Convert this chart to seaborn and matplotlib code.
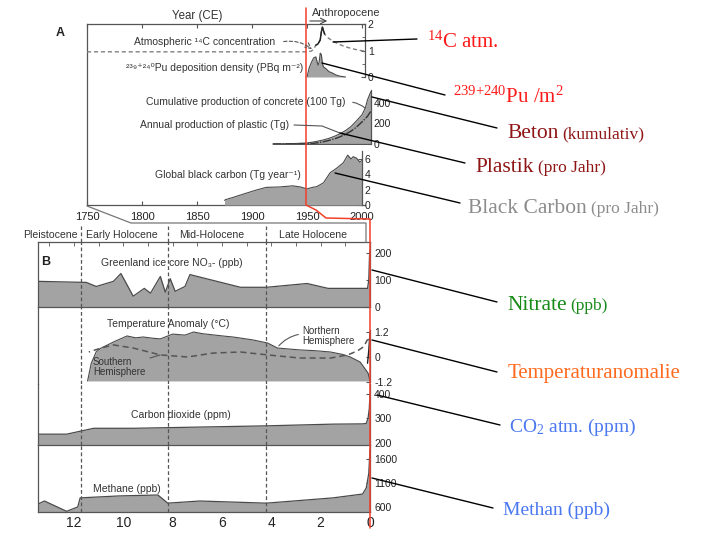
import numpy as np
import pandas as pd
import matplotlib
matplotlib.use("Agg")
import matplotlib.pyplot as plt
import seaborn as sns

# ---------------- data : panel A (Year CE) ----------------
c14_year = [1750, 1950, 1954, 1956, 1958, 1960, 1962, 1963, 1964, 1965, 1966, 1968, 1970, 1975, 1980, 1985, 1990, 1995, 2000, 2003]
c14_val = [0.95, 0.95, 0.98, 1.05, 1.2, 1.25, 1.4, 1.7, 1.88, 1.75, 1.62, 1.52, 1.45, 1.32, 1.22, 1.14, 1.08, 1.03, 0.99, 0.98]
pu_year = [1950, 1952, 1954, 1956, 1958, 1959, 1960, 1961, 1962, 1963, 1964, 1965, 1967, 1970, 1973, 1976, 1980, 1985]
pu_val = [0, 0.35, 0.55, 0.72, 0.76, 0.6, 0.45, 0.55, 0.9, 0.85, 0.5, 0.38, 0.32, 0.2, 0.15, 0.08, 0.03, 0]
concrete_year = [1919, 1930, 1940, 1950, 1955, 1960, 1965, 1970, 1975, 1980, 1985, 1990, 1995, 2000, 2003, 2005, 2008]
concrete_val = [0, 2, 5, 10, 18, 28, 40, 55, 75, 100, 130, 170, 225, 285, 350, 430, 510]
plastic_year = [1919, 1950, 1955, 1960, 1965, 1970, 1975, 1980, 1985, 1990, 1995, 2000, 2005, 2008]
plastic_val = [0, 2, 5, 12, 22, 35, 50, 70, 95, 125, 165, 215, 270, 320]
bc_year = [1875, 1876, 1883, 1895, 1904, 1913, 1925, 1937, 1944, 1950, 1955, 1959, 1965, 1971, 1977, 1983, 1987, 1990, 1992, 1995, 1998, 2000]
bc_val = [0.6, 0.7, 1.0, 1.55, 1.95, 2.3, 2.35, 2.5, 2.35, 2.1, 2.3, 2.4, 2.9, 4.2, 4.8, 5.5, 6.5, 6.0, 6.3, 6.1, 5.6, 5.8]
year_ticks = [1750, 1800, 1850, 1900, 1950, 2000]

# ---------------- data : panel B (age, kyr B.P.) ----------------
nit_age = [13.46, 11.5, 11.1, 10.4, 10.1, 9.6, 9.15, 8.9, 8.5, 8.3, 8.1, 7.9, 7.5, 7.3, 5.25, 4.2, 2.55, 1.7, 0.1, 0.05, 0.02, 0.0]
nit_val = [95, 91, 76, 95, 124, 40, 69, 51, 113, 55, 105, 58, 76, 120, 73, 73, 87, 69, 69, 100, 190, 210]
tnh_age = [11.45, 11.3, 11.1, 10.9, 10.4, 9.85, 9.5, 9.2, 8.8, 8.5, 8.0, 7.5, 7.15, 6.8, 6.35, 5.9, 5.55, 4.75, 4.15, 3.75, 2.85, 2.2, 1.6, 1.1, 0.8, 0.4, 0.08, 0.0]
tnh_val = [-1.15, -0.3, 0.25, 0.43, 0.72, 1.01, 0.92, 0.96, 0.9, 0.87, 1.1, 1.05, 1.2, 1.12, 1.06, 1.0, 0.96, 0.82, 0.67, 0.43, 0.34, 0.3, 0.24, 0.12, 0.0, -0.24, -0.77, -1.15]
tsh_age = [11.4, 10.9, 10.4, 9.6, 8.5, 7.4, 6.35, 5.25, 4.15, 2.85, 1.6, 0.9, 0.5, 0.25, 0.12, 0.05]
tsh_val = [0.24, 0.43, 0.58, 0.43, 0.1, 0.0, 0.19, 0.24, 0.1, -0.05, -0.05, 0.1, 0.3, 0.5, 0.8, 0.85]
tinst_age = [0.1, 0.05, 0.0]
tinst_val = [-0.3, 0.3, 1.15]
co2_age = [13.46, 12.3, 11.75, 11.2, 9.6, 6.9, 4.2, 1.5, 0.3, 0.15, 0.08, 0.03, 0.0]
co2_val = [236, 236, 248, 260, 260, 265, 270, 277, 278, 280, 300, 340, 400]
ch4_age = [13.46, 13.2, 12.3, 11.85, 11.75, 10.2, 8.6, 8.2, 6.9, 4.2, 1.5, 0.3, 0.15, 0.05, 0.0]
ch4_val = [660, 725, 510, 600, 790, 830, 850, 680, 725, 680, 790, 870, 1000, 1300, 1800]
age_ticks = [12, 10, 8, 6, 4, 2, 0]
boundaries = [11.7, 8.2, 4.2]
epochs = ["Pleistocene", "Early Holocene", "Mid-Holocene", "Late Holocene"]
epoch_pos = [12.97, 10.05, 6.4, 2.3]

# ---------------- style ----------------
sns.set_style("white")
plt.rcParams["font.family"] = ["Liberation Sans", "DejaVu Sans"]
plt.rcParams["mathtext.fontset"] = "custom"
plt.rcParams["mathtext.rm"] = "Liberation Serif"
plt.rcParams["mathtext.it"] = "Liberation Serif:italic"
plt.rcParams["mathtext.bf"] = "Liberation Serif:bold"

W, H = 709, 544
fig = plt.figure(figsize=(W / 100, H / 100), dpi=100)
TXT = "#333333"
SP = "#555555"
FILL = "#a3a3a3"
EDGE = "#4a4a4a"


def add_ax(x0, y0, x1, y1, z=1):
    ax = fig.add_axes([x0 / W, 1 - y1 / H, (x1 - x0) / W, (y1 - y0) / H], zorder=z)
    ax.patch.set_alpha(0)
    return ax


def right_only(ax, lo, hi, ticks, labels=None, fs=7.5):
    for s in ["left", "top", "bottom"]:
        ax.spines[s].set_visible(False)
    ax.spines["right"].set_visible(True)
    ax.spines["right"].set_color(SP)
    ax.spines["right"].set_linewidth(0.9)
    ax.spines["right"].set_bounds(lo, hi)
    ax.yaxis.tick_right()
    ax.set_yticks(ticks)
    if labels is not None:
        ax.set_yticklabels(labels)
    ax.tick_params(axis="y", direction="in", length=3, width=0.8, colors=SP,
                   labelcolor="#222222", labelsize=fs, pad=2)
    ax.set_xticks([])
    ax.set_xlabel("")
    ax.set_ylabel("")


# ---------------- panel A ----------------
axA = add_ax(87, 24, 365, 205, z=0)
axA.set_xlim(1750, 2002.7)
axA.set_ylim(0, 1)
axA.spines["right"].set_visible(False)
for s in ["left", "top", "bottom"]:
    axA.spines[s].set_color(SP)
    axA.spines[s].set_linewidth(0.9)
axA.set_yticks([])
axA.set_xticks(year_ticks)
axA.tick_params(axis="x", direction="in", length=3, top=True, bottom=True,
                colors=SP, labelcolor="#222222", labelsize=8, pad=5)

ax1 = add_ax(87, 24, 365, 80)
ax1.set_xlim(1750, 2002.7)
ax1.set_ylim(-0.113, 2.0)
ax1.fill_between(pu_year, 0, pu_val, color=FILL, lw=0)
sns.lineplot(x=pu_year, y=pu_val, ax=ax1, color=EDGE, lw=0.8, estimator=None)
sns.lineplot(x=c14_year, y=c14_val, ax=ax1, color="#808080", lw=1.0, estimator=None,
             dashes=False, linestyle=(0, (3, 2)))
pk = pd.DataFrame({"year": c14_year, "val": c14_val})
pk = pk[(pk.year >= 1958) & (pk.year <= 1967)]
sns.lineplot(data=pk, x="year", y="val", ax=ax1, color="#222222", lw=1.1, estimator=None)
right_only(ax1, 0, 2, [0, 1, 2])
ax1.set_yticks([0.5, 1.5], minor=True)
ax1.tick_params(axis="y", which="minor", direction="in", length=2, colors=SP)

ax2 = add_ax(87, 88, 371, 145)
ax2.set_xlim(1750, 2008.2)
ax2.set_ylim(-9.8, 546)
ax2.fill_between(concrete_year, 0, concrete_val, color=FILL, lw=0)
sns.lineplot(x=concrete_year, y=concrete_val, ax=ax2, color=EDGE, lw=0.8, estimator=None)
sns.lineplot(x=plastic_year, y=plastic_val, ax=ax2, color="#333333", lw=1.0, estimator=None,
             linestyle=(0, (6, 1, 1, 1)))
ax2.axhline(0, xmin=(1919 - 1750) / (2008.2 - 1750), xmax=1, color=SP, lw=0.9)
right_only(ax2, 0, 530, [0, 200, 400])

ax3 = add_ax(87, 150, 362, 205)
ax3.set_xlim(1750, 2000)
ax3.set_ylim(0, 7.17)
ax3.fill_between(bc_year, 0, bc_val, color=FILL, lw=0)
sns.lineplot(x=bc_year, y=bc_val, ax=ax3, color=EDGE, lw=0.8, estimator=None)
right_only(ax3, 0, 7, [0, 2, 4, 6])

# ---------------- panel B ----------------
XL = (13.46, 0)


def b_axis(y0, y1, ylim, bottom=False, top=False):
    ax = add_ax(38, y0, 370, y1)
    ax.set_xlim(*XL)
    ax.set_ylim(*ylim)
    for s in ax.spines.values():
        s.set_color(SP)
        s.set_linewidth(0.9)
    ax.spines["top"].set_visible(top)
    ax.spines["bottom"].set_visible(bottom)
    ax.spines["right"].set_visible(True)
    ax.yaxis.tick_right()
    ax.tick_params(axis="y", direction="in", length=3, colors=SP, labelcolor="#222222",
                   labelsize=7.5, pad=3)
    ax.set_xticks([])
    for b in boundaries:
        ax.axvline(b, color="#555555", lw=0.9, ls=(0, (3, 2)), zorder=3)
    return ax


axN = b_axis(242, 307, (0, 240.7), bottom=True, top=True)
axN.fill_between(nit_age, 0, nit_val, color=FILL, lw=0)
sns.lineplot(x=nit_age, y=nit_val, ax=axN, color=EDGE, lw=0.9, estimator=None)
axN.set_yticks([0, 100, 200])
axN.set_xticks(np.arange(1, 14), minor=True)
axN.tick_params(axis="x", which="minor", direction="in", top=True, bottom=False, length=3, colors=SP)

axT = b_axis(307, 384, (-1.296, 2.4))
axT.fill_between(tnh_age, -1.15, tnh_val, color=FILL, lw=0)
sns.lineplot(x=tnh_age, y=tnh_val, ax=axT, color=EDGE, lw=0.8, estimator=None)
sns.lineplot(x=tsh_age, y=tsh_val, ax=axT, color="#555555", lw=1.1, estimator=None,
             linestyle=(0, (4, 2.5)))
sns.lineplot(x=tinst_age, y=tinst_val, ax=axT, color="#222222", lw=1.0, estimator=None)
axT.set_yticks([-1.2, 0, 1.2])
axT.set_yticklabels(["-1.2", "0", "1.2"])
axT.spines["right"].set_bounds(-1.2, 1.3)

axC = b_axis(384, 445, (191.8, 440.8), bottom=True)
axC.fill_between(co2_age, 191.8, co2_val, color=FILL, lw=0)
sns.lineplot(x=co2_age, y=co2_val, ax=axC, color=EDGE, lw=0.9, estimator=None)
axC.set_yticks([200, 300, 400])

axM = b_axis(445, 512, (495.8, 1891.7), bottom=True)
axM.fill_between(ch4_age, 495.8, ch4_val, color=FILL, lw=0)
sns.lineplot(x=ch4_age, y=ch4_val, ax=axM, color=EDGE, lw=0.9, estimator=None)
axM.set_yticks([600, 1100, 1600])
axM.set_xticks(age_ticks)
axM.set_xticks(np.arange(1, 14), minor=True)
axM.tick_params(axis="x", which="both", direction="in", length=3, colors=SP,
                labelcolor="#222222", labelsize=10, pad=3)
axM.set_xlabel("Age in thousand years B.P.", fontsize=10, color="#222222", labelpad=0)

axH = add_ax(38, 226, 370, 242)
axH.set_xlim(*XL)
axH.set_ylim(0, 1)
axH.axis("off")
for b in boundaries:
    axH.axvline(b, color="#555555", lw=0.9, ls=(0, (3, 2)))
for name, pos in zip(epochs, epoch_pos):
    axH.text(pos, 0.45, name, ha="center", va="center", fontsize=7.6, color=TXT)

# ---------------- overlay (labels, connectors, annotations) ----------------
ov = fig.add_axes([0, 0, 1, 1], zorder=20)
ov.set_xlim(0, W)
ov.set_ylim(H, 0)
ov.axis("off")
ov.patch.set_alpha(0)

# connector between panels and header box
ov.plot([87, 131, 366, 366], [206, 223, 223, 242], color="#777777", lw=0.9)
# red Anthropocene boundary
ov.plot([306, 306, 316, 326, 370, 370], [8, 205, 210, 218, 219, 528], color="#f0402a", lw=1.1)

ov.text(60, 33, "A", fontsize=9, fontweight="bold", color="#222222", ha="center", va="center")
ov.text(46, 262, "B", fontsize=9, fontweight="bold", color="#222222", ha="center", va="center")
ov.text(197, 16, "Year (CE)", fontsize=8.3, color=TXT, ha="center", va="center")
ov.text(312, 13, "Anthropocene", fontsize=7.8, color=TXT, ha="left", va="center")
ov.annotate("", xy=(330, 21), xytext=(307, 21),
            arrowprops=dict(arrowstyle="->", color="#444444", lw=0.8))

ov.text(205, 42, "Atmospheric \u00b9\u2074C concentration", fontsize=7.5, color=TXT,
        ha="center", va="center")
ov.annotate("", xy=(314, 51), xytext=(281, 42),
            arrowprops=dict(arrowstyle="->", color="#555555", lw=0.8, ls=(0, (3, 2)),
                            connectionstyle="arc3,rad=-0.25"))
ov.text(215, 68, "\u00b2\u00b3\u2079\u207a\u00b2\u2074\u2070Pu deposition density (PBq m\u207b\u00b2)",
        fontsize=7.5, color=TXT, ha="center", va="center")
ov.text(246, 102, "Cumulative production of concrete (100 Tg)", fontsize=7.5, color=TXT,
        ha="center", va="center")
ov.annotate("", xy=(367, 110), xytext=(350, 102),
            arrowprops=dict(arrowstyle="-", color="#555555", lw=0.8,
                            connectionstyle="arc3,rad=-0.2"))
ov.text(215, 125, "Annual production of plastic (Tg)", fontsize=7.5, color=TXT,
        ha="center", va="center")
ov.plot([294, 322, 345], [125, 126, 135], color="#555555", lw=0.8)
ov.text(228, 175, "Global black carbon (Tg year\u207b\u00b9)", fontsize=7.5, color=TXT,
        ha="center", va="center")

ov.text(172, 263, "Greenland ice core NO\u2083- (ppb)", fontsize=7.5, color=TXT, ha="center", va="center")
ov.text(168, 324, "Temperature Anomaly (\u00b0C)", fontsize=7.5, color=TXT, ha="center", va="center")
ov.text(302, 336, "Northern\nHemisphere", fontsize=7, color=TXT, ha="left", va="center",
        linespacing=1.0)
ov.annotate("", xy=(277, 348), xytext=(301, 334),
            arrowprops=dict(arrowstyle="-", color="#555555", lw=0.8,
                            connectionstyle="arc3,rad=0.2"))
ov.text(93, 367, "Southern\nHemisphere", fontsize=7, color=TXT, ha="left", va="center",
        linespacing=1.0)
ov.plot([150, 160], [358, 355], color="#555555", lw=0.8)
ov.text(181, 415, "Carbon dioxide (ppm)", fontsize=7.5, color=TXT, ha="center", va="center")
ov.text(127, 489, "Methane (ppb)", fontsize=7.5, color=TXT, ha="center", va="center")

# right-side German annotations
renderer = fig.canvas.get_renderer()


def rich(x, y, parts, color):
    for s, fs in parts:
        t = ov.text(x, y, s, fontsize=fs, color=color, family="Liberation Serif",
                    ha="left", va="baseline")
        bb = t.get_window_extent(renderer=renderer)
        x += bb.width + 4


RED = "#ff1a1a"
DRED = "#8e1515"
GRAY = "#8c8c8c"
GREEN = "#178a17"
ORANGE = "#ff6a1f"
BLUE = "#4a78f0"

notes = [
    ((333, 42), (417, 39), (427, 48), [(r"$^{14}$C atm.", 15)], RED),
    ((322, 63), (445, 95), (453, 103), [(r"$^{239{+}240}$Pu /m$^{2}$", 15)], RED),
    ((372, 97), (497, 128), (507, 138), [("Beton", 15.5), ("(kumulativ)", 12.5)], DRED),
    ((340, 133), (465, 163), (475, 172), [("Plastik", 15.5), ("(pro Jahr)", 12.5)], DRED),
    ((335, 173), (460, 203), (468, 213), [("Black Carbon", 15.5), ("(pro Jahr)", 12.5)], GRAY),
    ((372, 270), (497, 302), (507, 310), [("Nitrate", 15.5), ("(ppb)", 12.5)], GREEN),
    ((372, 340), (497, 372), (508, 378), [("Temperaturanomalie", 15)], ORANGE),
    ((377, 395), (500, 425), (509, 432), [(r"CO$_{2}$ atm. (ppm)", 14)], BLUE),
    ((372, 478), (493, 508), (503, 515), [("Methan (ppb)", 14)], BLUE),
]
for p0, p1, tp, parts, col in notes:
    ov.plot([p0[0], p1[0]], [p0[1], p1[1]], color="black", lw=1.0)
    rich(tp[0], tp[1], parts, col)

fig.savefig("out.png", dpi=100)
